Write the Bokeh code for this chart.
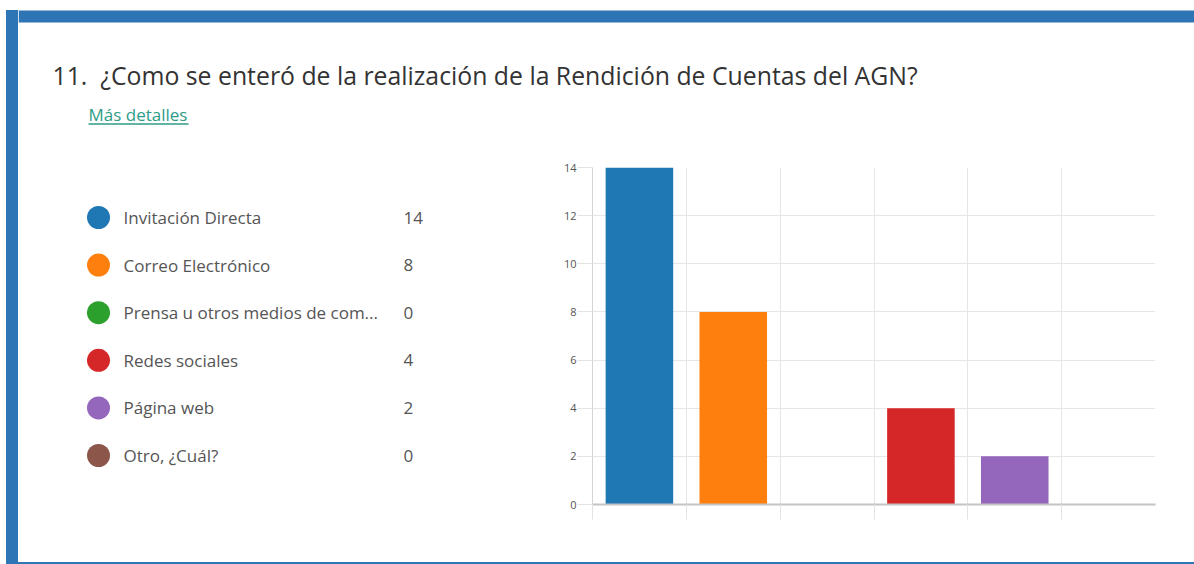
from bokeh.plotting import figure
from bokeh.layouts import column, row
from bokeh.models import Range1d, FixedTicker, ColumnDataSource, Div
from bokeh.core.properties import value
from bokeh.embed import file_html
from bokeh.resources import INLINE

# ---- data ----
title = "11.\u00a0\u00a0¿Como se enteró de la realización de la Rendición de Cuentas del AGN?"
link_text = "Más detalles"
categories = ["Invitación Directa", "Correo Electrónico",
              "Prensa u otros medios de com...", "Redes sociales",
              "Página web", "Otro, ¿Cuál?"]
counts = [14, 8, 0, 4, 2, 0]
colors = ["#1f77b4", "#ff7f0e", "#2ca02c", "#d62728", "#9467bd", "#8c564b"]
y_ticks = [0, 2, 4, 6, 8, 10, 12, 14]

# ---- style / layout constants ----
BLUE = "#2E75B6"
FONT = "Open Sans"
TOTAL_W = 1194
HEAD_H = 135
ROW_H = 427
LINE_H = 2
STRIP_X = 6
STRIP_TOP = 10
STRIP_W = 12
X0 = STRIP_X + STRIP_W              # left edge of the content column
CONTENT_W = TOTAL_W - X0
LEG_W = 512
BAR_W = CONTENT_W - LEG_W
TOP_B = 32
BOT_B = ROW_H - TOP_B - 337


def blank(width, height, xr, yr, **kw):
    f = figure(width=width, height=height, x_range=xr, y_range=yr,
               x_axis_location=None, y_axis_location=None,
               toolbar_location=None, output_backend="svg", **kw)
    f.grid.visible = False
    f.outline_line_color = None
    return f


# ---- left blue strip (whole height) ----
strip = Div(text="", width=STRIP_W, height=HEAD_H + ROW_H + LINE_H - STRIP_TOP,
            margin=(STRIP_TOP, 0, 0, STRIP_X), styles={"background-color": BLUE})

# ---- header ----
head = blank(CONTENT_W, HEAD_H, Range1d(X0, TOTAL_W), Range1d(HEAD_H, 0), min_border=0)
head.quad(left=X0, right=TOTAL_W, top=STRIP_TOP, bottom=22, color=BLUE, line_color=None)
head.text(x=[52], y=[74], text=[title], text_baseline="middle",
          text_font=value(FONT), text_font_size="24.8px", text_color="#333333")
head.text(x=[88], y=[114], text=[link_text], text_baseline="middle",
          text_font=value(FONT), text_font_size="17px", text_color="#2E9C87")
head.segment(x0=[88], y0=[123.5], x1=[188], y1=[123.5], line_color="#2E9C87",
             line_width=1.5)

# ---- legend ----
idx = list(range(len(categories)))
src = ColumnDataSource(dict(idx=idx, cat=categories, cnt=[str(c) for c in counts],
                            col=colors))
spacing = 47.6
first = 217 - HEAD_H - TOP_B       # first item centre, relative to frame top
frame_h = ROW_H - TOP_B - BOT_B
leg = blank(LEG_W, ROW_H, Range1d(X0, X0 + LEG_W),
            Range1d((frame_h - first) / spacing, -first / spacing),
            min_border_left=0, min_border_right=0,
            min_border_top=TOP_B, min_border_bottom=BOT_B)
leg.scatter(x=98, y="idx", size=23, color="col", line_color=None, source=src)
leg.text(x=123, y="idx", text="cat", text_baseline="middle", text_font=value(FONT),
         text_font_size="17px", text_color="#555555", source=src)
leg.text(x=403, y="idx", text="cnt", text_baseline="middle", text_font=value(FONT),
         text_font_size="17px", text_color="#555555", source=src)

# ---- bar chart ----
p = figure(width=BAR_W, height=ROW_H, x_range=Range1d(0, len(categories)),
           y_range=Range1d(0, max(y_ticks)), toolbar_location=None,
           output_backend="svg", min_border_left=62,
           min_border_right=BAR_W - 62 - 563,
           min_border_top=TOP_B, min_border_bottom=BOT_B)
p.outline_line_color = None
xpos = [i + 0.5 for i in idx]
p.vbar(x=xpos, top=counts, width=0.72, color=colors, line_color=None)

p.yaxis.ticker = FixedTicker(ticks=y_ticks)
p.xaxis.ticker = FixedTicker(ticks=idx)
p.xaxis.major_label_overrides = {i: "" for i in idx}
p.ygrid.ticker = FixedTicker(ticks=y_ticks)
p.xgrid.ticker = FixedTicker(ticks=idx)
p.grid.grid_line_color = "#e6e6e6"
p.grid.grid_line_width = 1

p.yaxis.axis_line_color = "#d4d4d4"
p.yaxis.major_tick_out = 15
p.yaxis.major_tick_in = 0
p.yaxis.minor_tick_line_color = None
p.yaxis.major_tick_line_color = "#e3e3e3"
p.yaxis.major_label_standoff = 1
p.yaxis.major_label_text_font = FONT
p.yaxis.major_label_text_font_size = "11px"
p.yaxis.major_label_text_color = "#555555"

p.xaxis.axis_line_color = "#c4c4c4"
p.xaxis.axis_line_width = 2
p.xaxis.major_tick_out = 15
p.xaxis.major_tick_in = 0
p.xaxis.minor_tick_line_color = None
p.xaxis.major_tick_line_color = "#e3e3e3"

# ---- bottom blue line ----
bottom = Div(text="", width=CONTENT_W, height=LINE_H, margin=0,
             styles={"background-color": BLUE})

page = row(strip, column(head, row(leg, p), bottom))

open("out.html", "w").write(file_html(page, INLINE))
